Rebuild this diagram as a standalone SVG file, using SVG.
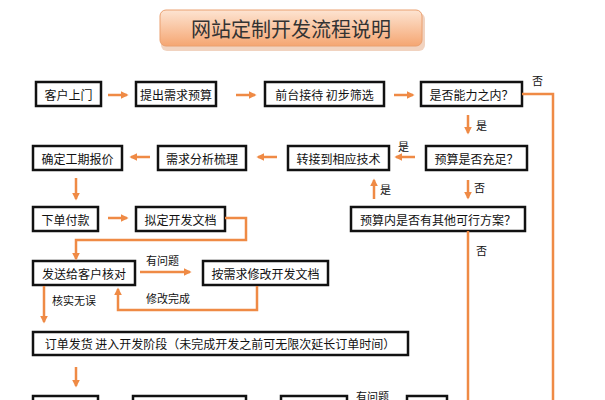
<svg xmlns="http://www.w3.org/2000/svg" width="605" height="400" viewBox="0 0 605 400">
<defs>
<linearGradient id="tg" x1="0" y1="0" x2="0" y2="1"><stop offset="0" stop-color="#fde4d2"/><stop offset="1" stop-color="#f5a672"/></linearGradient>
<marker id="ah" viewBox="0 0 10 10" refX="8" refY="5" markerWidth="3.2" markerHeight="3.2" orient="auto"><path d="M0,0L10,5L0,10z" fill="#ef8a45"/></marker>
<style>
.b{fill:#fff;stroke:#111;stroke-width:2.5}
.t{font-family:"Noto Sans CJK SC","Liberation Sans",sans-serif;font-size:12px;fill:#111;text-anchor:middle;dominant-baseline:central}
.l{font-family:"Noto Sans CJK SC","Liberation Sans",sans-serif;font-size:11px;fill:#111;dominant-baseline:central}
.c{fill:none;stroke:#ef8a45;stroke-width:2.5}
.a{marker-end:url(#ah)}
</style>
</defs>
<rect width="605" height="400" fill="#fff"/>
<g id="title"><rect x="160" y="11" width="264" height="38" rx="6" fill="#e8b596" opacity="0.6" transform="translate(1,2)"/><rect x="160" y="10" width="262" height="36" rx="6" fill="url(#tg)" stroke="#eaa070"/><text x="291" y="28" class="t" style="font-size:20px;fill:#333">网站定制开发流程说明</text></g>
<g id="n1"><rect class="b" x="36" y="82" width="65" height="24"/><text class="t" x="68.5" y="94">客户上门</text></g>
<g id="n2"><rect class="b" x="136" y="82" width="80" height="24"/><text class="t" x="176" y="94">提出需求预算</text></g>
<g id="n3"><rect class="b" x="265" y="82" width="119" height="24"/><text class="t" x="324.5" y="94">前台接待 初步筛选</text></g>
<g id="n4"><rect class="b" x="421" y="82" width="101" height="24"/><text class="t" x="471.5" y="94">是否能力之内？</text></g>
<g id="n5"><rect class="b" x="33" y="146" width="89" height="24"/><text class="t" x="77.5" y="158">确定工期报价</text></g>
<g id="n6"><rect class="b" x="158" y="146" width="88" height="24"/><text class="t" x="202" y="158">需求分析梳理</text></g>
<g id="n7"><rect class="b" x="288" y="146" width="101" height="24"/><text class="t" x="338.5" y="158">转接到相应技术</text></g>
<g id="n8"><rect class="b" x="426" y="146" width="101" height="24"/><text class="t" x="476.5" y="158">预算是否充足？</text></g>
<g id="n9"><rect class="b" x="33" y="207" width="65" height="24"/><text class="t" x="65.5" y="219">下单付款</text></g>
<g id="n10"><rect class="b" x="136" y="207" width="89" height="24"/><text class="t" x="180.5" y="219">拟定开发文档</text></g>
<g id="n11"><rect class="b" x="351" y="207" width="174" height="24"/><text class="t" x="438" y="219">预算内是否有其他可行方案？</text></g>
<g id="n12"><rect class="b" x="33" y="261" width="102" height="24"/><text class="t" x="84" y="273">发送给客户核对</text></g>
<g id="n13"><rect class="b" x="203" y="261" width="125" height="24"/><text class="t" x="265.5" y="273">按需求修改开发文档</text></g>
<g id="n14"><rect class="b" x="33" y="332" width="375" height="23"/><text class="t" x="220" y="343.5">订单发货  进入开发阶段（未完成开发之前可无限次延长订单时间）</text></g>
<g id="n15"><rect class="b" x="33" y="396" width="65" height="10"/></g>
<g id="n16"><rect class="b" x="133" y="396" width="113" height="10"/></g>
<g id="n17"><rect class="b" x="281" y="396" width="66" height="10"/></g>
<g id="n18"><rect class="b" x="407" y="396" width="40" height="10"/></g>
<g id="connectors">
<path class="c a" d="M108,95H127"/>
<path class="c a" d="M236,95H255"/>
<path class="c a" d="M394,95H413"/>
<path class="c" d="M522,94H553V400"/>
<path class="c a" d="M468,115V133"/>
<path class="c a" d="M415,157H396"/>
<path class="c a" d="M277,157H258"/>
<path class="c a" d="M150,157H131"/>
<path class="c a" d="M76,178V199"/>
<path class="c a" d="M468,180V198"/>
<path class="c a" d="M374,199V180"/>
<path class="c a" d="M108,218H127"/>
<path class="c a" d="M225,218H246V240H76V259"/>
<path class="c" d="M468,231V400"/>
<path class="c a" d="M140,272H190"/>
<path class="c a" d="M257,286V310H118V289"/>
<path class="c a" d="M44,286V322"/>
<path class="c a" d="M76,367V386"/>
</g>
<g id="labels">
<text class="l" x="532" y="80">否</text>
<text class="l" x="476" y="125">是</text>
<text class="l" x="398" y="146">是</text>
<text class="l" x="474" y="187">否</text>
<text class="l" x="380" y="189">是</text>
<text class="l" x="476" y="250">否</text>
<text class="l" x="146" y="260">有问题</text>
<text class="l" x="146" y="298">修改完成</text>
<text class="l" x="52" y="300">核实无误</text>
<text class="l" x="356" y="396">有问题</text>
</g>
</svg>
